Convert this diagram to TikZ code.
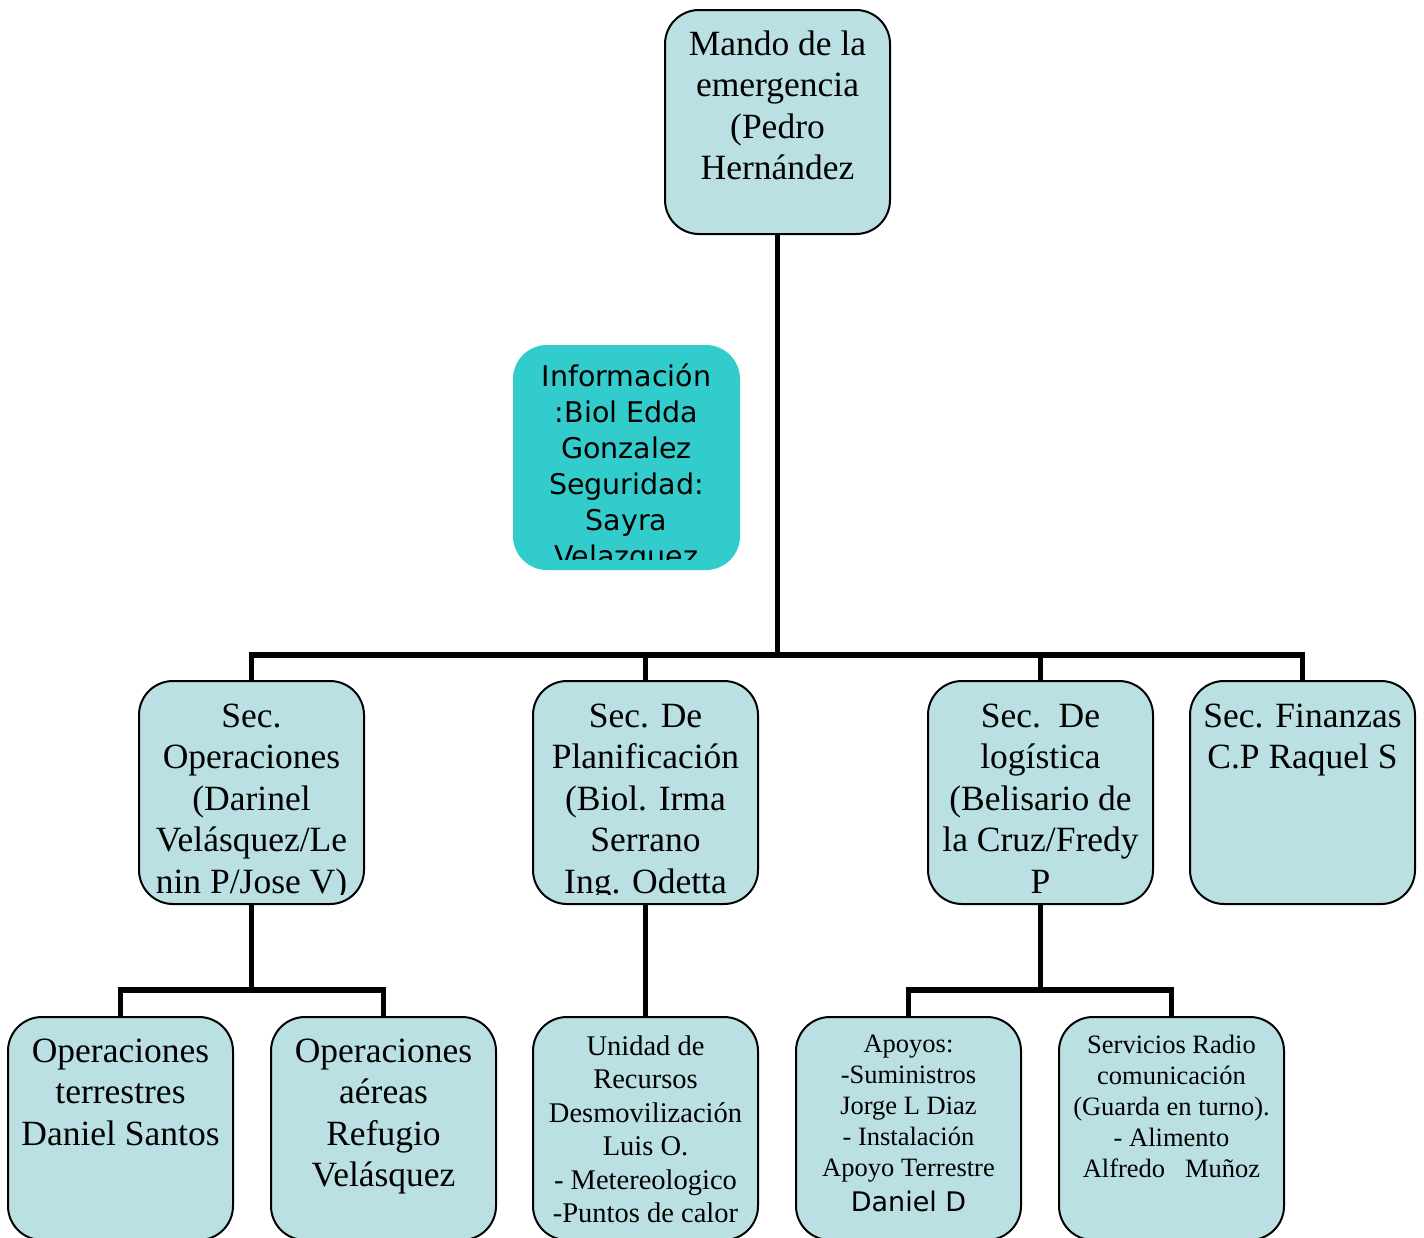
\documentclass[tikz,border=0pt]{standalone}
\usepackage{fontspec}
\setmainfont{Liberation Serif}
\newfontfamily\infofont{DejaVu Sans}
\usetikzlibrary{calc}
\definecolor{boxfill}{HTML}{BAE0E3}
\definecolor{infofill}{HTML}{33CCCC}
\tikzset{
  orgbox/.style={draw=black, line width=2pt, fill=boxfill, rounded corners=34pt,
    minimum width=225pt, minimum height=223pt, inner sep=0pt},
  infobox/.style={fill=infofill, rounded corners=34pt,
    minimum width=227pt, minimum height=225pt, inner sep=0pt},
  lbl/.style={anchor=north, align=center, inner sep=0pt, text=black,
    execute at begin node=\strut},
  big/.style={font=\fontsize{35.5}{41.5}\selectfont},
  mid/.style={font=\fontsize{28.5}{33.4}\selectfont},
  small/.style={font=\fontsize{26.5}{31}\selectfont},
  info/.style={font=\infofont\fontsize{28.5}{36}\selectfont},
  link/.style={draw=black, line width=5.5pt, line join=miter}
}
% #1 box, #2 name, #3 offset of the text top, #4 font style, #5 text
\newcommand\orgtext[5]{%
  \begin{scope}
    \clip (#1.north west) rectangle ($(#1.south east)+(0,-11)$);
    \node[lbl,#4] (#2) at ($(#1.north)+(0,#3)$) {#5};
  \end{scope}}
\begin{document}
\begin{tikzpicture}[x=1pt,y=-1pt]
\useasboundingbox (0,0) rectangle (1424,1237);
\clip (0,0) rectangle (1424,1237);

% boxes
\node[orgbox, minimum height=224pt] (mando) at (777.5,122) {};
\node[infobox] (info) at (626.5,457.5) {};
\node[orgbox] (o1) at (251.5,792.5) {};
\node[orgbox] (o2) at (645.5,792.5) {};
\node[orgbox] (o3) at (1040.5,792.5) {};
\node[orgbox] (o4) at (1302.5,792.5) {};
\node[orgbox] (t1) at (120.5,1128.5) {};
\node[orgbox] (t2) at (383.5,1128.5) {};
\node[orgbox] (t3) at (645.5,1128.5) {};
\node[orgbox] (t4) at (908.5,1128.5) {};
\node[orgbox] (t5) at (1171.5,1128.5) {};

% texts
\orgtext{mando}{mandotxt}{21.5}{big}{Mando de la\\emergencia\\(Pedro\\Hernández}
\orgtext{info}{infotxt}{18.8}{info}{Información\\:Biol Edda\\Gonzalez\\Seguridad:\\Sayra\\Velazquez}
\orgtext{o1}{o1txt}{23.5}{big}{Sec.\\Operaciones\\(Darinel\\Velásquez/Le\\nin P/Jose V)}
\orgtext{o2}{o2txt}{23.5}{big}{Sec. De\\Planificación\\(Biol. Irma\\Serrano\\Ing. Odetta}
\orgtext{o3}{o3txt}{23.5}{big}{Sec.\ \ De\\logística\\(Belisario de\\la Cruz/Fredy\\P}
\orgtext{o4}{o4txt}{23.5}{big}{Sec. Finanzas\\C.P Raquel S}
\orgtext{t1}{t1txt}{22.5}{big}{Operaciones\\terrestres\\Daniel Santos}
\orgtext{t2}{t2txt}{22.5}{big}{Operaciones\\aéreas\\Refugio\\Velásquez}
\orgtext{t3}{t3txt}{19.6}{mid}{Unidad de\\Recursos\\Desmovilización\\Luis O.\\- Metereologico\\-Puntos de calor}
\orgtext{t4}{t4txt}{18.8}{small}{Apoyos:\\-Suministros\\Jorge L Diaz\\- Instalación\\Apoyo Terrestre\\[4pt]{\infofont\fontsize{27}{31}\selectfont Daniel D}}
\orgtext{t5}{t5txt}{18.8}{small}{Servicios Radio\\comunicación\\(Guarda en turno).\\- Alimento\\Alfredo~~~Muñoz}

% connectors
\coordinate (bar) at (777.5,655);
\coordinate (opbar) at (251.5,990);
\coordinate (logbar) at (1040.5,990);
\draw[link] (mando.south) -- (bar);
\draw[link] (o1.north) |- (bar) -| (o4.north);
\draw[link] (o2.north) -- (o2.north |- bar);
\draw[link] (o3.north) -- (o3.north |- bar);
\draw[link] (o1.south) -- (opbar);
\draw[link] (t1.north) |- (opbar) -| (t2.north);
\draw[link] (o2.south) -- (t3.north);
\draw[link] (o3.south) -- (logbar);
\draw[link] (t4.north) |- (logbar) -| (t5.north);
\end{tikzpicture}
\end{document}
